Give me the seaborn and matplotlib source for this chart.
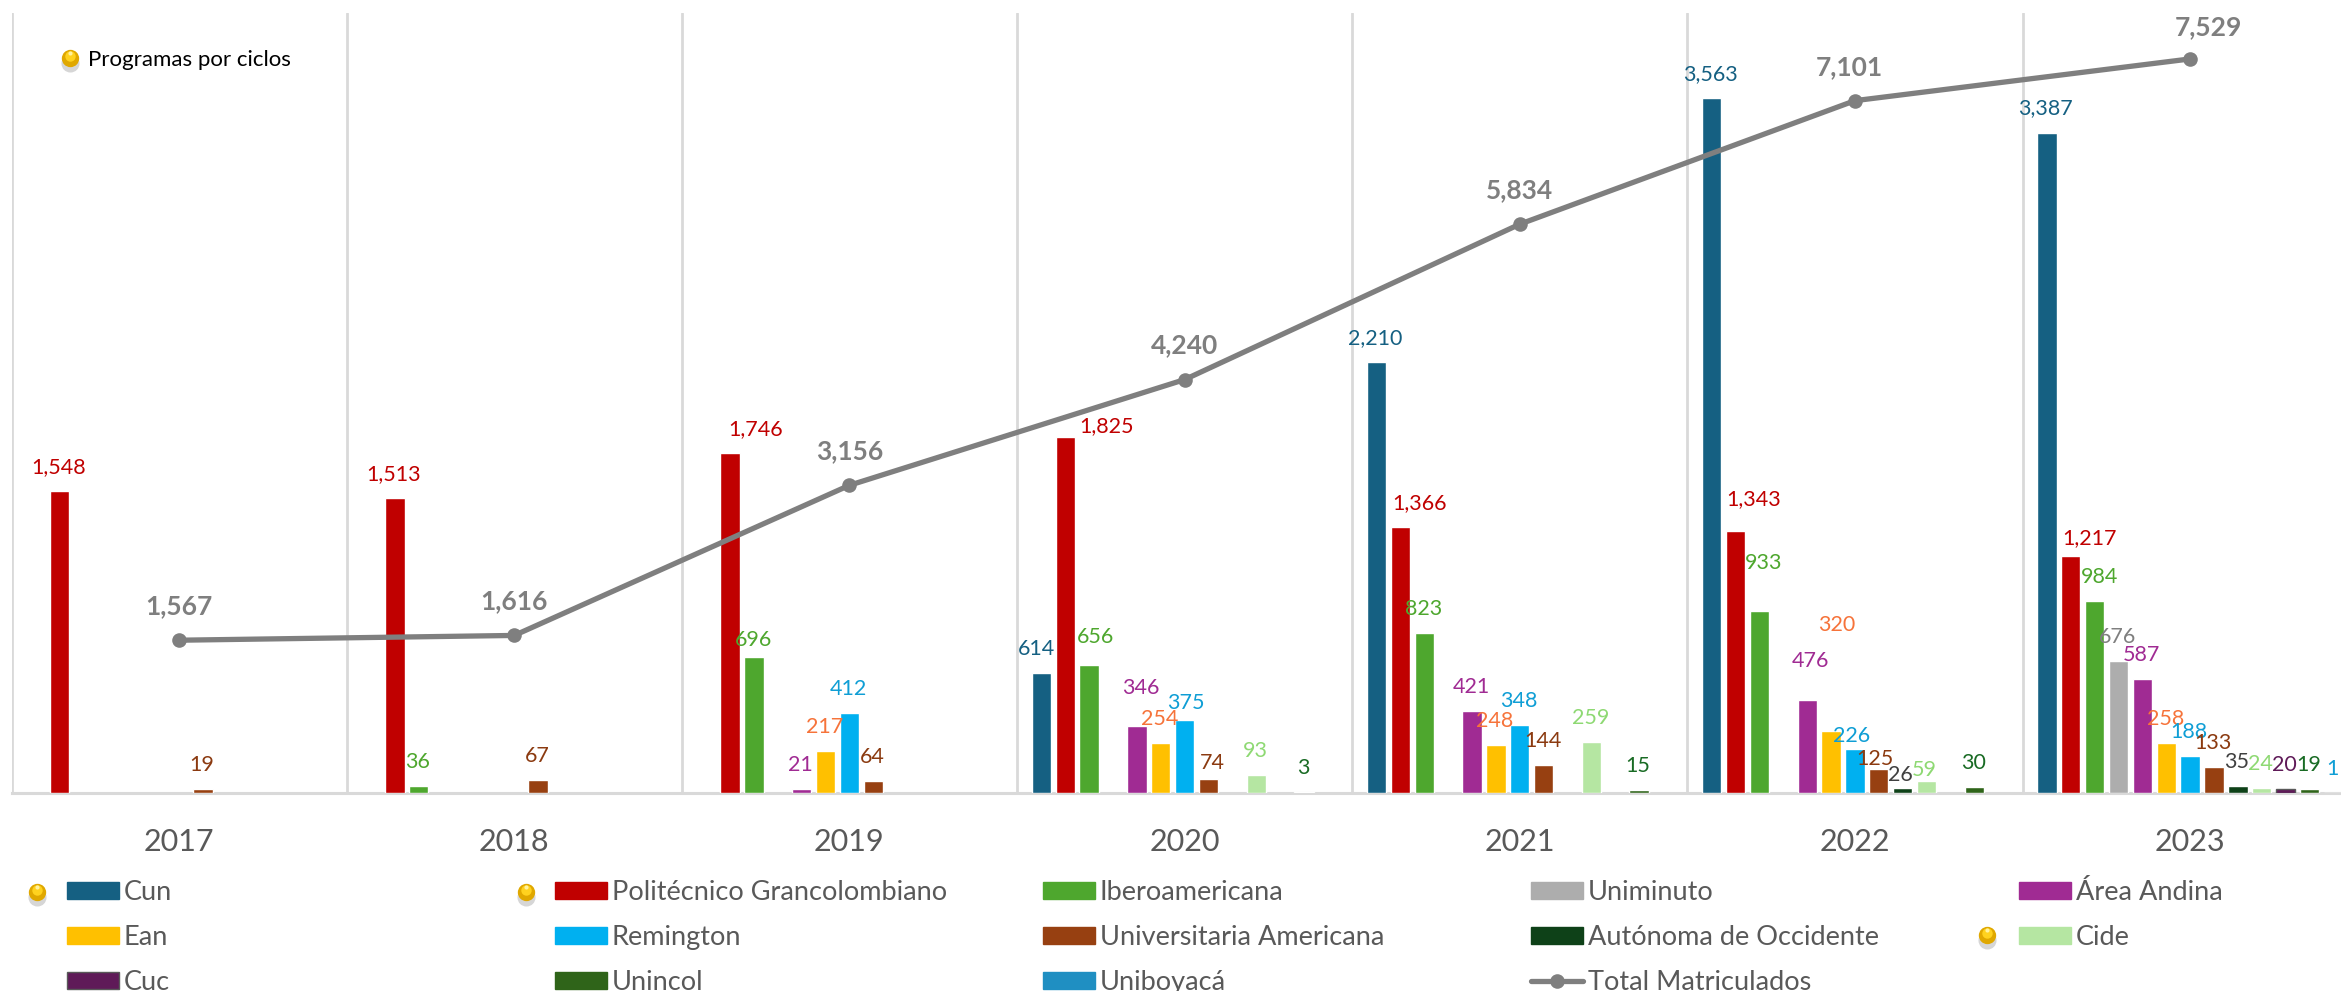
import numpy as np
import pandas as pd
import matplotlib
matplotlib.use('Agg')
import matplotlib.pyplot as plt
from matplotlib.lines import Line2D
from matplotlib.patches import Patch
import seaborn as sns

years = ['2017', '2018', '2019', '2020', '2021', '2022', '2023']

cun = [None, None, None, 614, 2210, 3563, 3387]
politecnico = [1548, 1513, 1746, 1825, 1366, 1343, 1217]
iberoamericana = [None, 36, 696, 656, 823, 933, 984]
uniminuto = [None, None, None, None, None, None, 676]
area_andina = [None, None, 21, 346, 421, 476, 587]
ean = [None, None, 217, 254, 248, 320, 258]
remington = [None, None, 412, 375, 348, 226, 188]
americana = [19, 67, 64, 74, 144, 125, 133]
autonoma = [None, None, None, None, None, 26, 35]
cide = [None, None, None, 93, 259, 59, 24]
cuc = [None, None, None, None, None, None, 20]
unincol = [None, None, None, 3, 15, 30, 19]
uniboyaca = [None, None, None, None, None, None, 1]
total = [1567, 1616, 3156, 4240, 5834, 7101, 7529]

names = ['Cun', 'Politécnico Grancolombiano', 'Iberoamericana', 'Uniminuto', 'Área Andina', 'Ean', 'Remington',
         'Universitaria Americana', 'Autónoma de Occidente', 'Cide', 'Cuc', 'Unincol', 'Uniboyacá']
series = [cun, politecnico, iberoamericana, uniminuto, area_andina, ean, remington,
          americana, autonoma, cide, cuc, unincol, uniboyaca]

bar_colors = ['#156082', '#C00000', '#4EA72E', '#ADADAD', '#A02B93', '#FFC000', '#00B0F0',
              '#974011', '#0E4118', '#B5E6A2', '#5F1A58', '#2F6419', '#1F8FC2']
label_colors = ['#156082', '#C00000', '#4EA72E', '#7F7F7F', '#A02B93', '#F6733A', '#0F9ED5',
                '#8B3A10', '#404040', '#8ED973', '#5F1A58', '#196B24', '#0F9ED5']

# labels that were dragged away from the default spot, in pixels (dx, dy)
label_moves = {
    ('Cun', '2020'): (-5, 24),
    ('Politécnico Grancolombiano', '2019'): (26, 23),
    ('Politécnico Grancolombiano', '2020'): (41, 11),
    ('Politécnico Grancolombiano', '2021'): (19, 24),
    ('Politécnico Grancolombiano', '2022'): (18, 32),
    ('Politécnico Grancolombiano', '2023'): (19, 18),
    ('Iberoamericana', '2019'): (0, 17),
    ('Iberoamericana', '2020'): (6, 28),
    ('Iberoamericana', '2022'): (4, 48),
    ('Iberoamericana', '2023'): (5, 24),
    ('Área Andina', '2020'): (4, 38),
    ('Área Andina', '2022'): (3, 39),
    ('Ean', '2022'): (6, 106),
    ('Remington', '2020'): (1, 17),
    ('Remington', '2022'): (-3, 13),
    ('Universitaria Americana', '2020'): (4, 16),
    ('Universitaria Americana', '2022'): (-4, 10),
    ('Autónoma de Occidente', '2022'): (-2, 13),
    ('Cide', '2022'): (-2, 11),
}
total_moves = {'2022': (-6, 34), '2023': (18, 32)}

sns.set_theme(style='white')
plt.rcParams['font.family'] = ['Lato', 'DejaVu Sans']

W, H = 2341, 991
grid_color = '#D9D9D9'
line_color = '#7F7F7F'

df = pd.DataFrame({name: values for name, values in zip(names, series)}, index=years, dtype=float)
df = df.rename_axis('year').reset_index().melt(id_vars='year', var_name='school', value_name='students').dropna()

fig = plt.figure(figsize=(W / 100, H / 100), dpi=100)
ax = fig.add_axes([11.5 / W, (H - 793) / H, 2346.2 / W, 780 / H])

sns.barplot(data=df, x='year', y='students', hue='school', order=years, hue_order=names,
            palette=dict(zip(names, bar_colors)), width=0.926, gap=0.19, saturation=1,
            errorbar=None, legend=False, ax=ax)

ax.set_xlim(-0.5, 6.5)
ax.set_ylim(0, 4000)
ax.set_xlabel('')
ax.set_ylabel('')
ax.set_yticks([])
ax.set_xticks(np.arange(-0.5, 7), minor=True)
ax.grid(which='minor', axis='x', color=grid_color, linewidth=2)
ax.set_axisbelow(True)
ax.tick_params(axis='x', which='both', length=0)
ax.tick_params(axis='x', which='major', labelsize=22, labelcolor='#595959', pad=25)
sns.despine(ax=ax, left=True)
ax.spines['bottom'].set_color(grid_color)
ax.spines['bottom'].set_linewidth(2.2)
ax.spines['bottom'].set_zorder(0.5)

# value labels, read back from the bars
for name, container, color in zip(names, ax.containers, label_colors):
    for bar, value in zip(container, container.datavalues):
        if name == 'Cuc':
            bar.set_edgecolor('#595959')
            bar.set_linewidth(1)
        center = bar.get_x() + bar.get_width() / 2
        year = years[int(round(center))]
        dx, dy = label_moves.get((name, year), (-1, 24))
        ax.annotate(f'{int(value):,}', (center, value), xytext=(dx, dy), textcoords='offset pixels',
                    ha='center', va='center', color=color, fontsize=15.5, annotation_clip=False)

ax2 = ax.twinx()
sns.lineplot(x=np.arange(len(years)), y=total, color=line_color, linewidth=3.8, marker='o', markersize=10.5,
             markeredgewidth=0, ax=ax2)
ax2.set_ylim(0, 8000)
ax2.set_yticks([])
ax2.set_ylabel('')
sns.despine(ax=ax2, left=True, bottom=True)
for i, value in enumerate(total):
    dx, dy = total_moves.get(years[i], (0, 34))
    ax2.annotate(f'{value:,}', (i, value), xytext=(dx, dy), textcoords='offset pixels', ha='center', va='center',
                 color=line_color, fontsize=19, fontweight='bold')


def legend_handle(name):
    k = names.index(name)
    edge = '#595959' if name == 'Cuc' else bar_colors[k]
    return Patch(facecolor=bar_colors[k], edgecolor=edge, linewidth=1, label=name)


total_handle = Line2D([], [], color=line_color, linewidth=3.8, marker='o', markersize=10.5, markeredgewidth=0,
                      label='Total Matriculados')

# five separate columns so they sit on an even pitch like the original
legend_columns = [
    ['Cun', 'Ean', 'Cuc'],
    ['Politécnico Grancolombiano', 'Remington', 'Unincol'],
    ['Iberoamericana', 'Universitaria Americana', 'Uniboyacá'],
    ['Uniminuto', 'Autónoma de Occidente', None],
    ['Área Andina', 'Cide'],
]
for col, members in enumerate(legend_columns):
    handles = [legend_handle(m) if m else total_handle for m in members]
    leg = fig.legend(handles=handles, loc='upper left', bbox_to_anchor=((67 + 488 * col) / W, (H - 880) / H),
                     frameon=False, fontsize=19.5, labelcolor='#595959', handlelength=1.92, handleheight=0.63,
                     handletextpad=0.18, labelspacing=0.74, borderpad=0, borderaxespad=0)

fig.text(88 / W, (H - 60) / H, 'Programas por ciclos', ha='left', va='center', fontsize=16, color='black')

# the little gold bullets pasted on the slide
overlay = fig.add_axes([0, 0, 1, 1], zorder=5)
overlay.set_xlim(0, W)
overlay.set_ylim(H, 0)
overlay.axis('off')
bullets_x = [70, 37, 526, 1987]
bullets_y = [58, 892, 892, 935]
for bx, by in zip(bullets_x, bullets_y):
    overlay.plot(bx, by + 5, 'o', markersize=13, color='#BBBBBB', alpha=0.6, markeredgewidth=0)
    overlay.plot(bx, by, 'o', markersize=12.5, color='#E0A800', markeredgewidth=0)
    overlay.plot(bx, by - 2.5, 'o', markersize=7.5, color='#FFD21F', markeredgewidth=0)
    overlay.plot(bx, by - 5, 'o', markersize=3, color='#FFF2A0', markeredgewidth=0)

fig.savefig('out.png', dpi=100, facecolor='white')
